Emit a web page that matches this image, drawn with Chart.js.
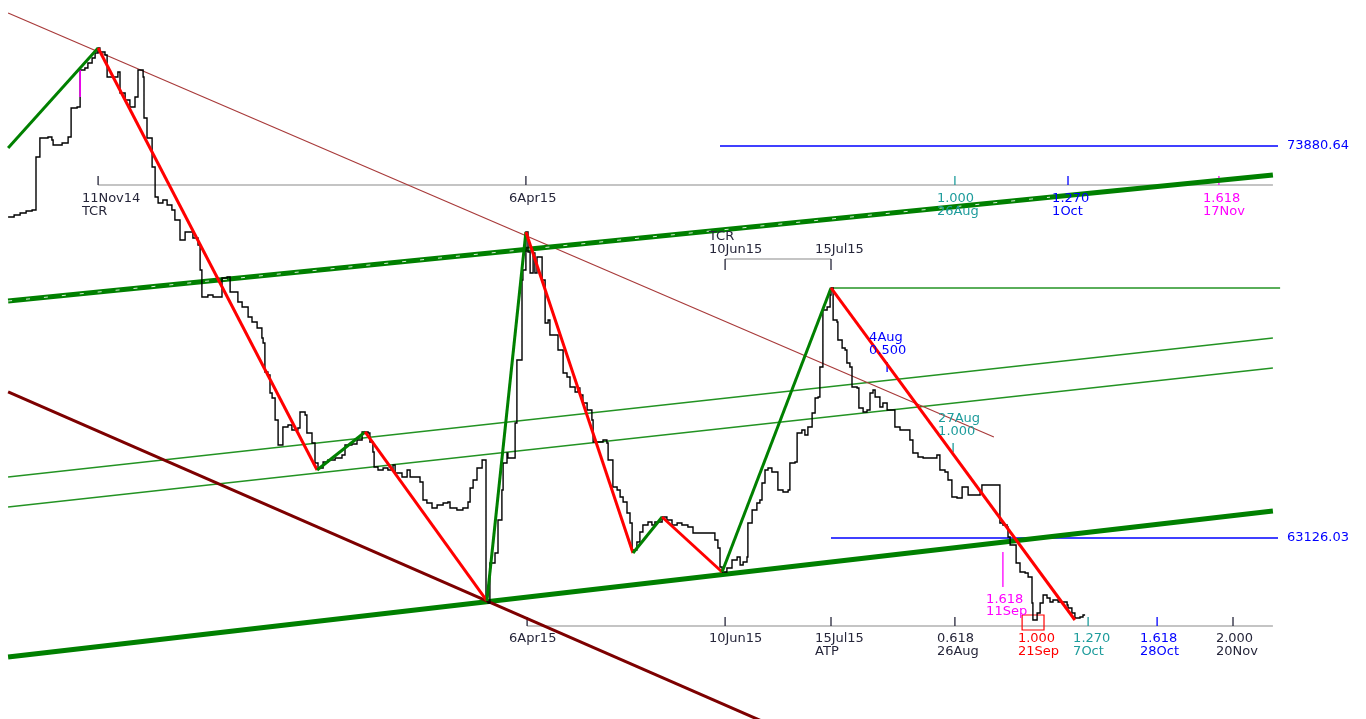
<!DOCTYPE html>
<html>
<head>
<meta charset="utf-8">
<title>ZigZag / Fibonacci time chart</title>
<script src="https://cdn.jsdelivr.net/npm/chart.js@4.4.0/dist/chart.umd.min.js"></script>
<style>
  html, body { margin: 0; padding: 0; background: #fff; }
  #wrap { width: 1366px; height: 719px; }
</style>
</head>
<body>
<div id="wrap"><canvas id="chart"></canvas></div>
<script>
// x = bar number (about one per calendar day), y = price

// closes, drawn as a step line
const priceSeries = [
  [2.7,71933],[4.7,71987],[6.7,72042],[8.7,72097],[10.7,72125],[12,73579],[13.3,74100],[16,74127],
  [17.3,74045],[17.7,73908],[20.7,73963],[22.7,74127],[23.7,74923],[25.7,74950],[26.7,75225],[26.7,75966],
  [28.3,76020],[29.3,76158],[30.7,76295],[31.7,76432],[32.7,76569],[33.3,76459],[35,76377],[35.7,75774],
  [39.3,75911],[40,75335],[41.7,75142],[43.3,74950],[45,75225],[46,75966],[47.7,75774],[48,74649],
  [49,74100],[50.7,73304],[51.7,72481],[52.7,72317],[54.3,72399],[55.7,72262],[57.3,72125],[58.3,71850],
  [60,71302],[61.7,71521],[64.3,71356],[66,71164],[66.7,70479],[67.3,69738],[69.3,69793],[71,69738],
  [74,70259],[75.7,70286],[76.7,69875],[79.3,69601],[80.7,69464],[82.7,69189],[84,69052],[85.7,68887],
  [87.3,68613],[87.7,68476],[88.3,67680],[89.3,67598],[90,67104],[90.7,66967],[91.7,66363],[92.7,65677],
  [94.3,66171],[96,66226],[97.3,66089],[99.3,66144],[100,66583],[101.7,66500],[102.3,66007],[104,65732],
  [105,65184],[106,65046],[107.7,65211],[109.3,65266],[111.7,65321],[114,65403],[115,65677],[117.3,65705],
  [119,65815],[120.7,66034],[122.7,66007],[123.3,65760],[124.3,65485],[124.7,65074],[126,64992],[127.7,65046],
  [129.3,64992],[131,65129],[131.7,64909],[134,64799],[135.7,64992],[136.7,64799],[140,64662],[141,64168],
  [142.3,64086],[144,63949],[145.7,64031],[147.7,64086],[149.3,64114],[150,63949],[152.3,63894],[154.3,63949],
  [156,64114],[156.7,64498],[157.7,64717],[159,65046],[160.7,65266],[162,61398],[162.7,61343],[163.3,62440],
  [165,62714],[166,63620],[167.3,64443],[167.7,65184],[169,65458],[169.3,65321],[171.7,66281],[172.3,68009],
  [174,70204],[174.3,70479],[175.3,71521],[176,70972],[176.7,70396],[177.7,70945],[178.3,70396],[179,70835],
  [180.7,70204],[181.7,69024],[182.7,69107],[183.3,68695],[186,68284],[187.7,67653],[189,67543],[190,67269],
  [191.7,67132],[192.7,67241],[193.3,67049],[194.3,66830],[195.7,66638],[197.3,66363],[197.7,65760],[201,65815],
  [202.3,65732],[202.7,65266],[204.3,64525],[205.7,64443],[206.7,64251],[207.7,64114],[209,63812],[210,63537],
  [210.7,62797],[212.3,63016],[213.3,63291],[214.3,63483],[216,63565],[217.3,63483],[218.3,63565],[220.7,63702],
  [222.3,63620],[224,63483],[225.7,63537],[227.3,63483],[229.3,63428],[231,63263],[238.3,63071],[239.3,62852],
  [240,62330],[240.7,62193],[242.3,62303],[244,62522],[245.7,62605],[246.7,62385],[247.7,62468],[249,62605],
  [249.3,63537],[250.7,63894],[252.3,64086],[253.3,64168],[254,64635],[255,64992],[256,65046],[257.3,64937],
  [259.3,64443],[261,64388],[262.7,64443],[263.3,65184],[265,65211],[265.7,66007],[267.3,66089],[268.3,65952],
  [269.3,66171],[270.7,66555],[271.7,66967],[272.7,66994],[273.3,67817],[274.3,69381],[275.7,69464],[276.7,69793],
  [277,69985],[277.7,69107],[279,69052],[279.3,68558],[280.7,68339],[281.7,68284],[282.3,67927],[283.3,67817],
  [284,67269],[285.7,67241],[286.3,66692],[287.7,66583],[289,66638],[290,67104],[291,67186],[291.7,66994],
  [293.3,66720],[294.3,66830],[295.7,66638],[298.3,66171],[300,66089],[303.3,65815],[304.3,65458],[306,65348],
  [307.7,65321],[312.3,65403],[313.3,64992],[315,64937],[316,64717],[317.3,64251],[319,64223],[320.7,64525],
  [322.7,64306],[326.7,64388],[327.3,64580],[333.3,63537],[334.3,63483],[335.7,63428],[336,63153],[336.7,62934],
  [338.7,62440],[340,62193],[341.7,62166],[342.7,62056],[344,61343],[344.3,60876],[345.7,61068],[346.7,61343],
  [347.7,61562],[349,61480],[350,61370],[351,61425],[352.7,61370],[355.7,61288],[356,61205],[357.3,61068],
  [358.3,60931],[360,60959],[361,61013],[361.7,61013]
];

// zigzag turning points
const zigBars   = [2.7, 32.7, 105.7, 121.7, 162.3, 175.3, 211, 220.7, 240.7, 277, 358.3];
const zigValues = [73826, 76569, 64992, 66034, 61398, 71521, 62714, 63702, 62193, 69985, 60876];

// trend lines, [bar, price] end points
const brownFan     = [[2.7, 77529], [331.3, 65897]];
const maroonLine   = [[2.7, 67132], [260, 57886]];
const channelTop   = [[2.7, 69628], [424.3, 73085]];
const channelLow   = [[2.7, 59861], [424.3, 63867]];
const medianUpper  = [[2.7, 64799], [424.3, 68613]];
const medianLower  = [[2.7, 63976], [424.3, 67790]];
const peakLevel    = [[277, 69985], [426.7, 69985]];
const magentaStep  = [[26.7, 75225], [26.7, 75966]];

// price levels
const levelValues = [73880.64, 63126.03];
const levelStarts = [240, 277];
const levelEnd = 426;
const levelLabelBar = 429;

// Fibonacci time rulers: price of the ruler line, first and last bar
const rulerTop    = [72811, 32.7, 424.3];
const rulerMid    = [70780, 241.7, 277];
const rulerBottom = [60712, 175.7, 424.3];

// ruler ticks [bar, from price, to price]
const darkTicks    = [[32.7,72811,73058],[175.3,72811,73058],[241.7,70780,70479],[277,70780,70479],
                      [175.7,60712,60959],[241.7,60712,60959],[277,60712,60959],[318.3,60712,60959],[411,60712,60959]];
const tealTicks    = [[318.3,72811,73058],[362.7,60712,60959],[317.7,65732,65485]];
const blueTicks    = [[356,72811,73058],[385.7,60712,60959],[295.7,67954,67680]];
const magentaTicks = [[406.3,72811,73058],[334.3,62742,61782]];
const redBox       = [[340.7,61013],[348,61013],[348,60602],[340.7,60602],[340.7,61013]];

// text notes [bar, price, text]
const darkNotes = [
  [27.3,72426,'11Nov14'],[27.3,72070,'TCR'],[169.7,72426,'6Apr15'],
  [236.3,71384,'TCR'],[236.3,71027,'10Jun15'],[271.7,71027,'15Jul15'],
  [169.7,60355,'6Apr15'],[236.3,60355,'10Jun15'],[271.7,60355,'15Jul15'],[271.7,59998,'ATP'],
  [312.3,60355,'0.618'],[312.3,59998,'26Aug'],[405.3,60355,'2.000'],[405.3,59998,'20Nov']
];
const tealNotes = [
  [312.3,72426,'1.000'],[312.3,72070,'26Aug'],[312.7,66391,'27Aug'],[312.7,66034,'1.000'],
  [357.7,60355,'1.270'],[357.7,59998,'7Oct']
];
const blueNotes = [
  [350.7,72426,'1.270'],[350.7,72070,'1Oct'],[289.7,68613,'4Aug'],[289.7,68256,'0.500'],
  [380,60355,'1.618'],[380,59998,'28Oct']
];
const magentaNotes = [
  [401,72426,'1.618'],[401,72070,'17Nov'],[328.7,61425,'1.618'],[328.7,61096,'11Sep']
];
const redNotes = [[339.3,60355,'1.000'],[339.3,59998,'21Sep']];

// ---- styles ----
const C = {
  dark: '#26263a', teal: '#1e9c9c', blue: '#0000ff', magenta: '#ff00ff', red: '#ff0000',
  green: '#008000', thinGreen: '#239323', brown: '#a83a3a', maroon: '#7d0000', ruler: '#c4c4c4'
};

const pts = arr => arr.map(([x, y]) => ({ x, y }));
const layers = []; // bottom first
function line(points, color, width, extra) {
  layers.push(Object.assign({
    data: pts(points), showLine: true, borderColor: color, borderWidth: width,
    pointRadius: 0, fill: false, tension: 0, borderCapStyle: 'butt'
  }, extra || {}));
}

// rulers
[rulerTop, rulerMid, rulerBottom].forEach(r => line([[r[1], r[0]], [r[2], r[0]]], C.ruler, 2));
// thin lines
line(medianUpper, C.thinGreen, 1.4);
line(medianLower, C.thinGreen, 1.4);
line(peakLevel, C.thinGreen, 1.4);
line(brownFan, C.brown, 1.2);
levelValues.forEach((v, i) => line([[levelStarts[i], v], [levelEnd, v]], C.blue, 1.3));
// ticks
[[darkTicks, C.dark], [tealTicks, C.teal], [blueTicks, C.blue], [magentaTicks, C.magenta]].forEach(([list, col]) =>
  list.forEach(t => line([[t[0], t[1]], [t[0], t[2]]], col, 1.3)));
line(redBox, C.red, 1.2);
// channel
line(channelTop, C.green, 5);
line([channelTop[0], [350, channelTop[0][1] + (channelTop[1][1] - channelTop[0][1]) * (350 - channelTop[0][0]) / (channelTop[1][0] - channelTop[0][0])]],
     'rgba(255,255,255,0.85)', 1, { borderDash: [4, 14] });
line(channelLow, C.green, 5);
line(maroonLine, C.maroon, 3);
// price
line(priceSeries, '#000000', 1.4, { stepped: 'before' });
line(magentaStep, C.magenta, 1.6);
// zigzag legs
for (let i = 0; i < zigBars.length - 1; i++) {
  const up = zigValues[i + 1] > zigValues[i];
  line([[zigBars[i], zigValues[i]], [zigBars[i + 1], zigValues[i + 1]]], up ? C.green : C.red, 3);
}

const notesPlugin = {
  id: 'notes',
  afterDatasetsDraw(chart) {
    const { ctx, scales: { x, y } } = chart;
    ctx.save();
    ctx.font = '13px "DejaVu Sans", sans-serif';
    ctx.textBaseline = 'middle';
    ctx.textAlign = 'left';
    [[darkNotes, C.dark], [tealNotes, C.teal], [blueNotes, C.blue], [magentaNotes, C.magenta], [redNotes, C.red]]
      .forEach(([list, col]) => {
        ctx.fillStyle = col;
        list.forEach(n => ctx.fillText(n[2], x.getPixelForValue(n[0]), y.getPixelForValue(n[1])));
      });
    ctx.fillStyle = C.blue;
    levelValues.forEach(v => ctx.fillText(v.toFixed(2), x.getPixelForValue(levelLabelBar), y.getPixelForValue(v)));
    ctx.restore();
  }
};

new Chart(document.getElementById('chart'), {
  type: 'scatter',
  data: { datasets: layers.reverse() },
  options: {
    responsive: true,
    maintainAspectRatio: false,
    animation: false,
    layout: { padding: 0 },
    plugins: { legend: { display: false }, tooltip: { enabled: false } },
    scales: {
      x: { type: 'linear', min: 0, max: 455.33, display: false },
      y: { type: 'linear', min: 58160, max: 77886, display: false }
    }
  },
  plugins: [notesPlugin]
});
</script>
</body>
</html>
